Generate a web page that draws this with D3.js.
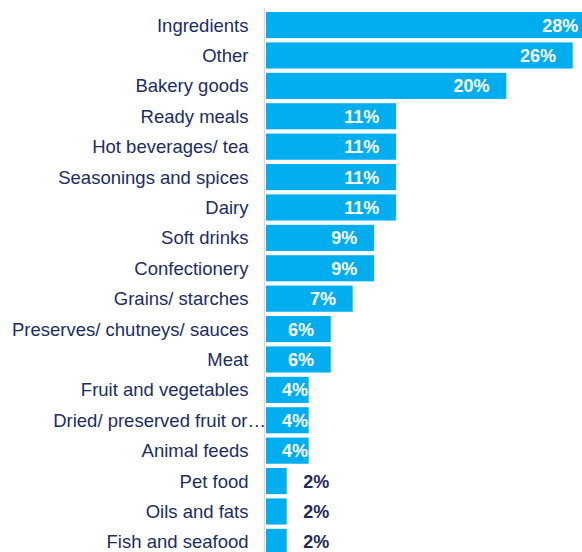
<!DOCTYPE html>
<html>
<head>
<meta charset="utf-8">
<script src="https://cdn.jsdelivr.net/npm/d3@7"></script>
<style>
  body { margin: 0; background: #fff; }
  svg { display: block; font-family: Arial, "Liberation Sans", sans-serif; }
</style>
</head>
<body>
<script>
// chart size
var width = 582;
var height = 552;

// categories, top to bottom
var categories = ["Ingredients", "Other ", "Bakery goods", "Ready meals", "Hot beverages/ tea",
  "Seasonings and spices", "Dairy", "Soft drinks", "Confectionery", "Grains/ starches",
  "Preserves/ chutneys/ sauces", "Meat", "Fruit and vegetables", "Dried/ preserved fruit or\u2026",
  "Animal feeds", "Pet food", "Oils and fats", "Fish and seafood"];

// share of respondents, %
var shares = [28, 26.1, 20.45, 11.06, 11.06, 11.06, 11.06, 9.19, 9.19, 7.38,
  5.51, 5.51, 3.63, 3.63, 3.63, 1.76, 1.76, 1.76];

var barColor = "#00aeef";
var textColor = "#1c2d62";
var outColor = "#25285a";

var x0 = 266;      // left edge of the bars
var top0 = 12;     // top of the first bar
var pitch = 30.4;  // distance between bars

var svg = d3.select("body")
  .append("svg")
  .attr("width", width)
  .attr("height", height);

var x = d3.scaleLinear()
  .domain([0, 1])
  .range([x0, x0 + 11.75]);

var y = d3.scaleBand()
  .domain(categories)
  .range([top0, top0 + pitch * categories.length])
  .paddingInner(0.14)
  .paddingOuter(0.07)
  .align(0);

// thin grey axis line
svg.append("line")
  .attr("x1", x0 - 1.5).attr("x2", x0 - 1.5)
  .attr("y1", 8).attr("y2", height)
  .attr("stroke", "#d9d9d9")
  .attr("stroke-width", 1.5);

var rows = svg.selectAll("g.row")
  .data(categories)
  .enter()
  .append("g")
  .attr("class", "row");

rows.append("rect")
  .attr("x", x(0))
  .attr("y", function(d) { return y(d); })
  .attr("width", function(d, i) { return x(shares[i]) - x(0); })
  .attr("height", y.bandwidth())
  .attr("fill", barColor);

// category names
rows.append("text")
  .attr("x", function(d) { return d.indexOf("\u2026") >= 0 ? x0 : 248.5; })
  .attr("y", function(d) { return y(d) + y.bandwidth() / 2; })
  .attr("dy", "0.35em")
  .attr("text-anchor", "end")
  .attr("fill", textColor)
  .style("font-size", "18.5px")
  .text(function(d) { return d.trim(); });

// value labels
rows.append("text")
  .attr("x", function(d, i) {
    var w = x(shares[i]) - x(0);
    if (w < 30) return x(shares[i]) + 16.5;
    return Math.max(x(shares[i]) - 16.7, x0 + 42);
  })
  .attr("y", function(d) { return y(d) + y.bandwidth() / 2; })
  .attr("dy", "0.36em")
  .attr("text-anchor", function(d, i) { return x(shares[i]) - x(0) < 30 ? "start" : "end"; })
  .attr("fill", function(d, i) { return x(shares[i]) - x(0) < 30 ? outColor : "#fff"; })
  .style("font-size", "18px")
  .style("font-weight", "bold")
  .text(function(d, i) { return Math.round(shares[i]) + "%"; });
</script>
</body>
</html>
